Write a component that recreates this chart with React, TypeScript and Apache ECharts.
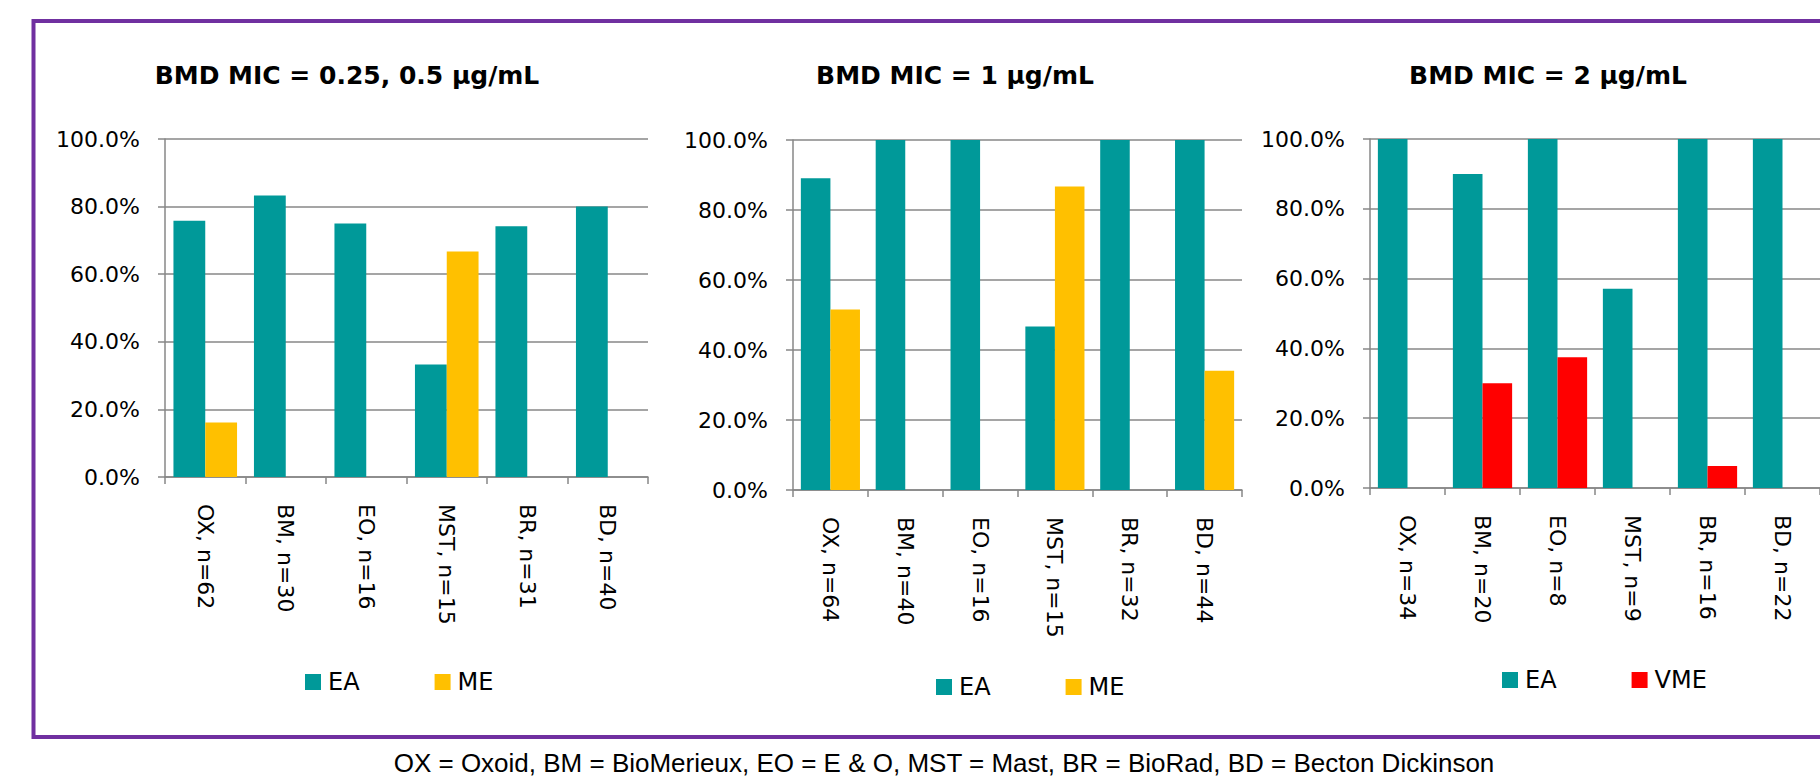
import React, { useEffect, useRef } from "react";
import * as echarts from "echarts";

const categories1 = ["OX, n=62", "BM, n=30", "EO, n=16", "MST, n=15", "BR, n=31", "BD, n=40"];
const categories2 = ["OX, n=64", "BM, n=40", "EO, n=16", "MST, n=15", "BR, n=32", "BD, n=44"];
const categories3 = ["OX, n=34", "BM, n=20", "EO, n=8", "MST, n=9", "BR, n=16", "BD, n=22"];

const ea1 = [75.8, 83.3, 75.0, 33.3, 74.2, 80.0];
const me1 = [16.1, 0, 0, 66.7, 0, 0];
const ea2 = [89.1, 100, 100, 46.7, 100, 100];
const me2 = [51.6, 0, 0, 86.7, 0, 34.1];
const ea3 = [100, 90, 100, 57.1, 100, 100];
const vme3 = [0, 30, 37.5, 0, 6.3, 0];

const titles = ["BMD MIC = 0.25, 0.5 \u00b5g/mL", "BMD MIC = 1 \u00b5g/mL", "BMD MIC = 2 \u00b5g/mL"];
const footer = "OX = Oxoid, BM = BioMerieux, EO = E & O, MST = Mast, BR = BioRad, BD = Becton Dickinson";

const TEAL = "#009999";
const YELLOW = "#FFC000";
const RED = "#FF0000";
const GRAY = "#878787";
const FONT = "DejaVu Sans";

export default function App() {
  const ref = useRef<HTMLDivElement>(null);
  useEffect(() => {
    if (!ref.current) return;
    const chart = echarts.init(ref.current, null, { renderer: "svg" });

    const grids = [
      { left: 165, top: 139, width: 483, height: 338 },
      { left: 793, top: 140, width: 449, height: 350 },
      { left: 1370, top: 139, width: 475, height: 349 },
    ];
    const cats = [categories1, categories2, categories3];

    const xAxes = cats.map((c, i) => ({
      type: "category",
      gridIndex: i,
      data: c,
      axisLine: { show: true, lineStyle: { color: GRAY, width: 1.5 } },
      axisTick: { show: true, length: 7, lineStyle: { color: GRAY, width: 1.5 } },
      axisLabel: {
        interval: 0,
        rotate: -90,
        margin: 27,
        fontFamily: FONT,
        fontSize: 22,
        color: "#000",
      },
      splitLine: { show: false },
    }));
    const yAxes = cats.map((_, i) => ({
      type: "value",
      gridIndex: i,
      min: 0,
      max: 100,
      interval: 20,
      axisLine: { show: true, lineStyle: { color: GRAY, width: 1.5 } },
      axisTick: { show: true, length: 7, lineStyle: { color: GRAY, width: 1.5 } },
      axisLabel: {
        margin: 25,
        fontFamily: FONT,
        fontSize: 22,
        color: "#000",
        formatter: (v: number) => v.toFixed(1) + "%",
      },
      splitLine: { show: true, lineStyle: { color: GRAY, width: 1.5 } },
    }));

    const bar = (name: string, data: number[], color: string, idx: number) => ({
      type: "bar",
      name,
      data,
      xAxisIndex: idx,
      yAxisIndex: idx,
      barGap: "0%",
      barCategoryGap: "21%",
      itemStyle: { color },
    });

    const legendCommon = {
      orient: "horizontal",
      icon: "rect",
      itemWidth: 16,
      itemHeight: 16,
      itemGap: 75,
      padding: 0,
      textStyle: { fontFamily: FONT, fontSize: 24, color: "#000", padding: [0, 0, 0, 2] },
      selectedMode: false,
    };

    chart.setOption({
      animation: false,
      backgroundColor: "#fff",
      title: titles.map((t, i) => ({
        text: t,
        left: [342, 950, 1543][i],
        top: 58,
        textAlign: "center",
        textStyle: { fontFamily: FONT, fontWeight: "bold", fontSize: 25, color: "#000" },
      })),
      grid: grids,
      xAxis: xAxes,
      yAxis: yAxes,
      legend: [
        { ...legendCommon, data: ["EA", "ME"], left: 305, top: 670 },
        { ...legendCommon, data: ["EA", "ME"], left: 936, top: 675 },
        { ...legendCommon, data: ["EA", "VME"], left: 1502, top: 668 },
      ],
      series: [
        bar("EA", ea1, TEAL, 0),
        bar("ME", me1, YELLOW, 0),
        bar("EA", ea2, TEAL, 1),
        bar("ME", me2, YELLOW, 1),
        bar("EA", ea3, TEAL, 2),
        bar("VME", vme3, RED, 2),
      ],
      graphic: [
        {
          type: "rect",
          shape: { x: 33.5, y: 21, width: 1900, height: 716 },
          style: { fill: "none", stroke: "#7030A0", lineWidth: 4 },
          z: 100,
        },
        {
          type: "text",
          x: 944,
          y: 763,
          style: {
            text: footer,
            font: "26px 'Liberation Sans', Arial, sans-serif",
            fill: "#000",
            textAlign: "center",
            textVerticalAlign: "middle",
          },
        },
      ],
    });
    return () => chart.dispose();
  }, []);

  return (
    <div
      ref={ref}
      style={{ position: "fixed", left: 0, top: 0, width: 1820, height: 779 }}
    />
  );
}
